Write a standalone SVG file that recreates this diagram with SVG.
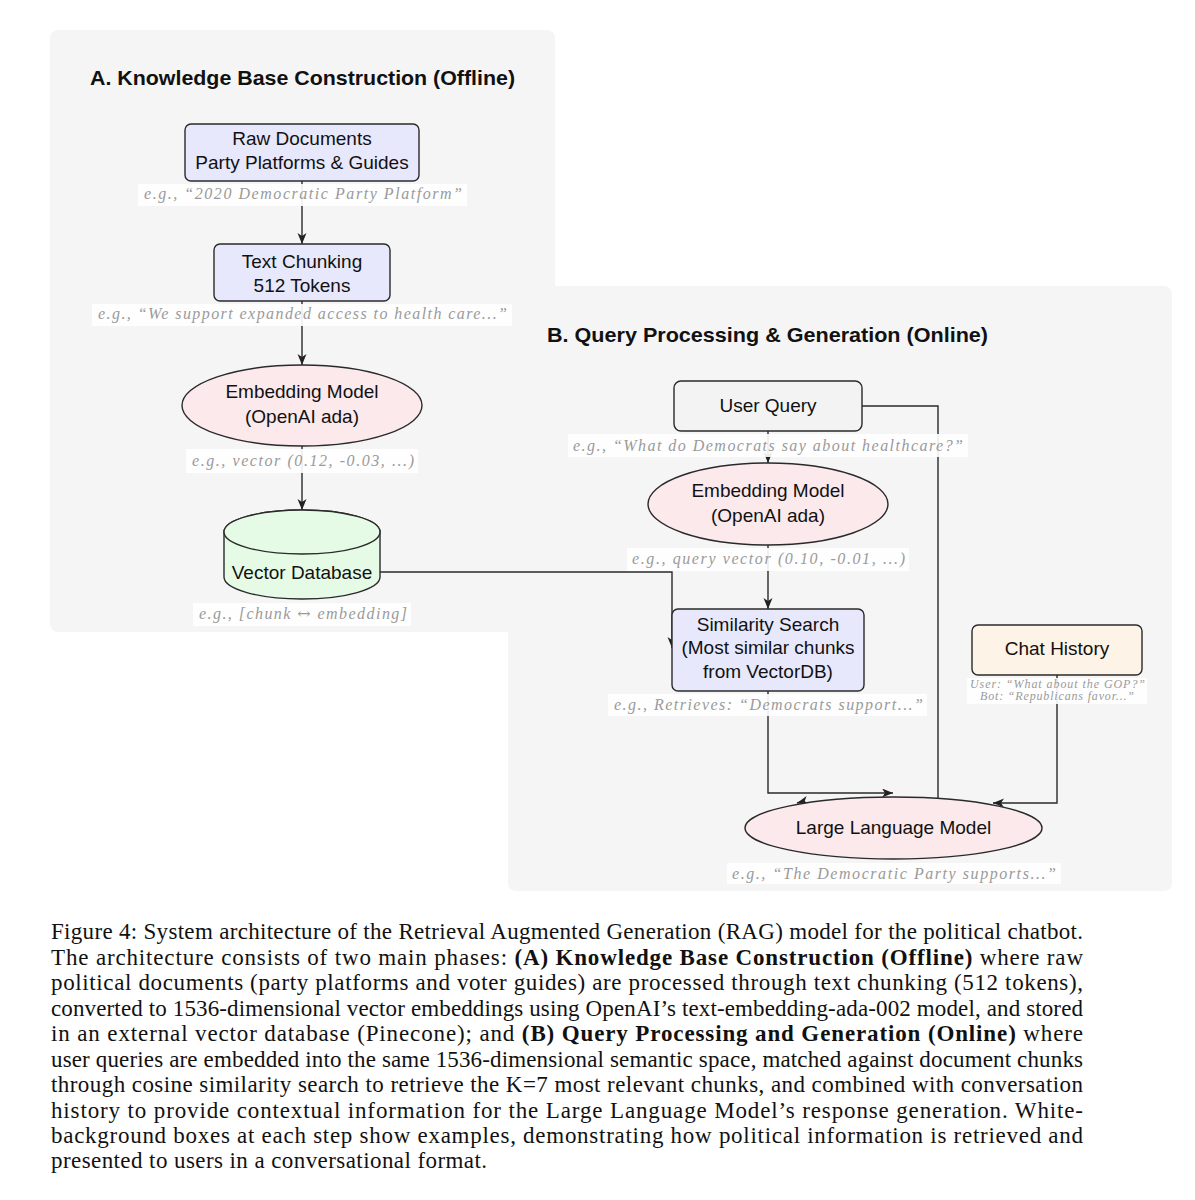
<svg xmlns="http://www.w3.org/2000/svg" width="1195" height="1200" viewBox="0 0 1195 1200">
<defs>
<marker id="ah" markerUnits="userSpaceOnUse" markerWidth="12" markerHeight="10" refX="11" refY="4.5" orient="auto">
<path d="M0,0 L11,4.5 L0,9 L3,4.5 Z" fill="#222"/>
</marker>
</defs>
<style>
.panel{fill:#f5f5f5;stroke:none}
.node{stroke:#2a2a2a;stroke-width:1.4}
.blue{fill:#e7e8fc}
.pink{fill:#fbe9ec}
.green{fill:#e6fbe6}
.gray{fill:#f3f3f3}
.peach{fill:#fdf3e6}
.lbl{font-family:"Liberation Sans","DejaVu Sans",sans-serif;font-size:19px;fill:#111;text-anchor:middle}
.title{font-family:"Liberation Sans","DejaVu Sans",sans-serif;font-size:21px;font-weight:bold;fill:#111}
.exbg{fill:#ffffff;opacity:0.9}
.ex{font-family:"Liberation Serif","DejaVu Serif",serif;font-style:italic;font-size:16px;fill:#9a9a9a}
.exs{font-family:"Liberation Serif","DejaVu Serif",serif;font-style:italic;font-size:12px;fill:#9a9a9a}
.conn{fill:none;stroke:#2a2a2a;stroke-width:1.4}
.cap{font-family:"Liberation Serif","DejaVu Serif",serif;font-size:23px;fill:#111}
.b{font-weight:bold}
</style>
<rect width="1195" height="1200" fill="#ffffff"/>

<g id="panelA">
<rect class="panel" x="50" y="30" width="505" height="602" rx="8"/>
<text class="title" x="90" y="85" textLength="425" lengthAdjust="spacingAndGlyphs">A. Knowledge Base Construction (Offline)</text>
</g>
<g id="panelB">
<rect class="panel" x="508" y="286" width="664" height="605" rx="8"/>
<text class="title" x="547" y="342" textLength="441" lengthAdjust="spacingAndGlyphs">B. Query Processing &amp; Generation (Online)</text>
</g>

<g id="connectors">
<path class="conn" d="M302,181 V244" marker-end="url(#ah)"/>
<path class="conn" d="M302,301 V365" marker-end="url(#ah)"/>
<path class="conn" d="M302,446 V510" marker-end="url(#ah)"/>
<path class="conn" d="M380,572 H672 V648" marker-end="url(#ah)"/>
<path class="conn" d="M768,431 V463" marker-end="url(#ah)"/>
<path class="conn" d="M768,545 V609" marker-end="url(#ah)"/>
<path class="conn" d="M862,406 H938 V798"/>
<path class="conn" d="M801,802 L797,803" marker-end="url(#ah)"/>
<path class="conn" d="M768,691 V793 H893" marker-end="url(#ah)"/>
<path class="conn" d="M1057,675 V803 H993" marker-end="url(#ah)"/>
</g>

<g id="rawdocs">
<rect class="node blue" x="185" y="124" width="234" height="57" rx="6"/>
<text class="lbl" x="302" y="145">Raw Documents</text>
<text class="lbl" x="302" y="169">Party Platforms &amp; Guides</text>
<rect class="exbg" x="138" y="184" width="329" height="22"/>
<text class="ex" x="144" y="199" textLength="318" lengthAdjust="spacing">e.g., “2020 Democratic Party Platform”</text>
</g>

<g id="chunking">
<rect class="node blue" x="214" y="244" width="176" height="57" rx="6"/>
<text class="lbl" x="302" y="268">Text Chunking</text>
<text class="lbl" x="302" y="292">512 Tokens</text>
<rect class="exbg" x="92" y="304" width="420" height="22"/>
<text class="ex" x="98" y="319" textLength="409" lengthAdjust="spacing">e.g., “We support expanded access to health care...”</text>
</g>

<g id="embedA">
<ellipse class="node pink" cx="302" cy="405.5" rx="120" ry="40.5"/>
<text class="lbl" x="302" y="398">Embedding Model</text>
<text class="lbl" x="302" y="423">(OpenAI ada)</text>
<rect class="exbg" x="186" y="449" width="232" height="24"/>
<text class="ex" x="192" y="466" textLength="222" lengthAdjust="spacing">e.g., vector (0.12, -0.03, ...)</text>
</g>

<g id="vectordb">
<path class="node green" d="M224,532 V577 A78,22 0 0 0 380,577 V532 A78,22 0 0 0 224,532 Z"/>
<ellipse class="node green" cx="302" cy="532" rx="78" ry="22"/>
<text class="lbl" x="302" y="579">Vector Database</text>
<rect class="exbg" x="193" y="603" width="218" height="23"/>
<text class="ex" x="199" y="619" textLength="208" lengthAdjust="spacing">e.g., [chunk <tspan font-family="DejaVu Serif" font-style="normal">↔</tspan> embedding]</text>
</g>

<g id="userquery">
<rect class="node gray" x="674" y="381" width="188" height="50" rx="7"/>
<text class="lbl" x="768" y="412">User Query</text>
<rect class="exbg" x="568" y="434" width="400" height="23"/>
<text class="ex" x="573" y="451" textLength="390" lengthAdjust="spacing">e.g., “What do Democrats say about healthcare?”</text>
</g>

<g id="embedB">
<ellipse class="node pink" cx="768" cy="504" rx="120" ry="41"/>
<text class="lbl" x="768" y="497">Embedding Model</text>
<text class="lbl" x="768" y="522">(OpenAI ada)</text>
<rect class="exbg" x="627" y="548" width="282" height="23"/>
<text class="ex" x="632" y="564" textLength="273" lengthAdjust="spacing">e.g., query vector (0.10, -0.01, ...)</text>
</g>

<g id="similarity">
<rect class="node blue" x="672" y="609" width="192" height="82" rx="6"/>
<text class="lbl" x="768" y="631">Similarity Search</text>
<text class="lbl" x="768" y="654">(Most similar chunks</text>
<text class="lbl" x="768" y="678">from VectorDB)</text>
<rect class="exbg" x="608" y="694" width="319" height="22"/>
<text class="ex" x="614" y="710" textLength="309" lengthAdjust="spacing">e.g., Retrieves: “Democrats support...”</text>
</g>

<g id="chathistory">
<rect class="node peach" x="972" y="625" width="170" height="50" rx="6"/>
<text class="lbl" x="1057" y="655">Chat History</text>
<rect class="exbg" x="967" y="678" width="180" height="26"/>
<text class="exs" x="970" y="688" textLength="175" lengthAdjust="spacing">User: “What about the GOP?”</text>
<text class="exs" x="980" y="700" textLength="154" lengthAdjust="spacing">Bot: “Republicans favor...”</text>
</g>

<g id="llm">
<ellipse class="node pink" cx="893.5" cy="828" rx="148.5" ry="31"/>
<text class="lbl" x="893.5" y="834">Large Language Model</text>
<rect class="exbg" x="727" y="863" width="334" height="21"/>
<text class="ex" x="732" y="879" textLength="324" lengthAdjust="spacing">e.g., “The Democratic Party supports...”</text>
</g>

<g id="caption">
<text class="cap" x="51" y="939" textLength="1032" lengthAdjust="spacing">Figure 4: System architecture of the Retrieval Augmented Generation (RAG) model for the political chatbot.</text>
<text class="cap" x="51" y="964.5" textLength="1032" lengthAdjust="spacing">The architecture consists of two main phases: <tspan class="b">(A) Knowledge Base Construction (Offline)</tspan> where raw</text>
<text class="cap" x="51" y="990" textLength="1032" lengthAdjust="spacing">political documents (party platforms and voter guides) are processed through text chunking (512 tokens),</text>
<text class="cap" x="51" y="1015.5" textLength="1032" lengthAdjust="spacing">converted to 1536-dimensional vector embeddings using OpenAI’s text-embedding-ada-002 model, and stored</text>
<text class="cap" x="51" y="1041" textLength="1032" lengthAdjust="spacing">in an external vector database (Pinecone); and <tspan class="b">(B) Query Processing and Generation (Online)</tspan> where</text>
<text class="cap" x="51" y="1066.5" textLength="1032" lengthAdjust="spacing">user queries are embedded into the same 1536-dimensional semantic space, matched against document chunks</text>
<text class="cap" x="51" y="1092" textLength="1032" lengthAdjust="spacing">through cosine similarity search to retrieve the K=7 most relevant chunks, and combined with conversation</text>
<text class="cap" x="51" y="1117.5" textLength="1032" lengthAdjust="spacing">history to provide contextual information for the Large Language Model’s response generation.  White-</text>
<text class="cap" x="51" y="1143" textLength="1032" lengthAdjust="spacing">background boxes at each step show examples, demonstrating how political information is retrieved and</text>
<text class="cap" x="51" y="1168" textLength="436" lengthAdjust="spacing">presented to users in a conversational format.</text>
</g>
</svg>
